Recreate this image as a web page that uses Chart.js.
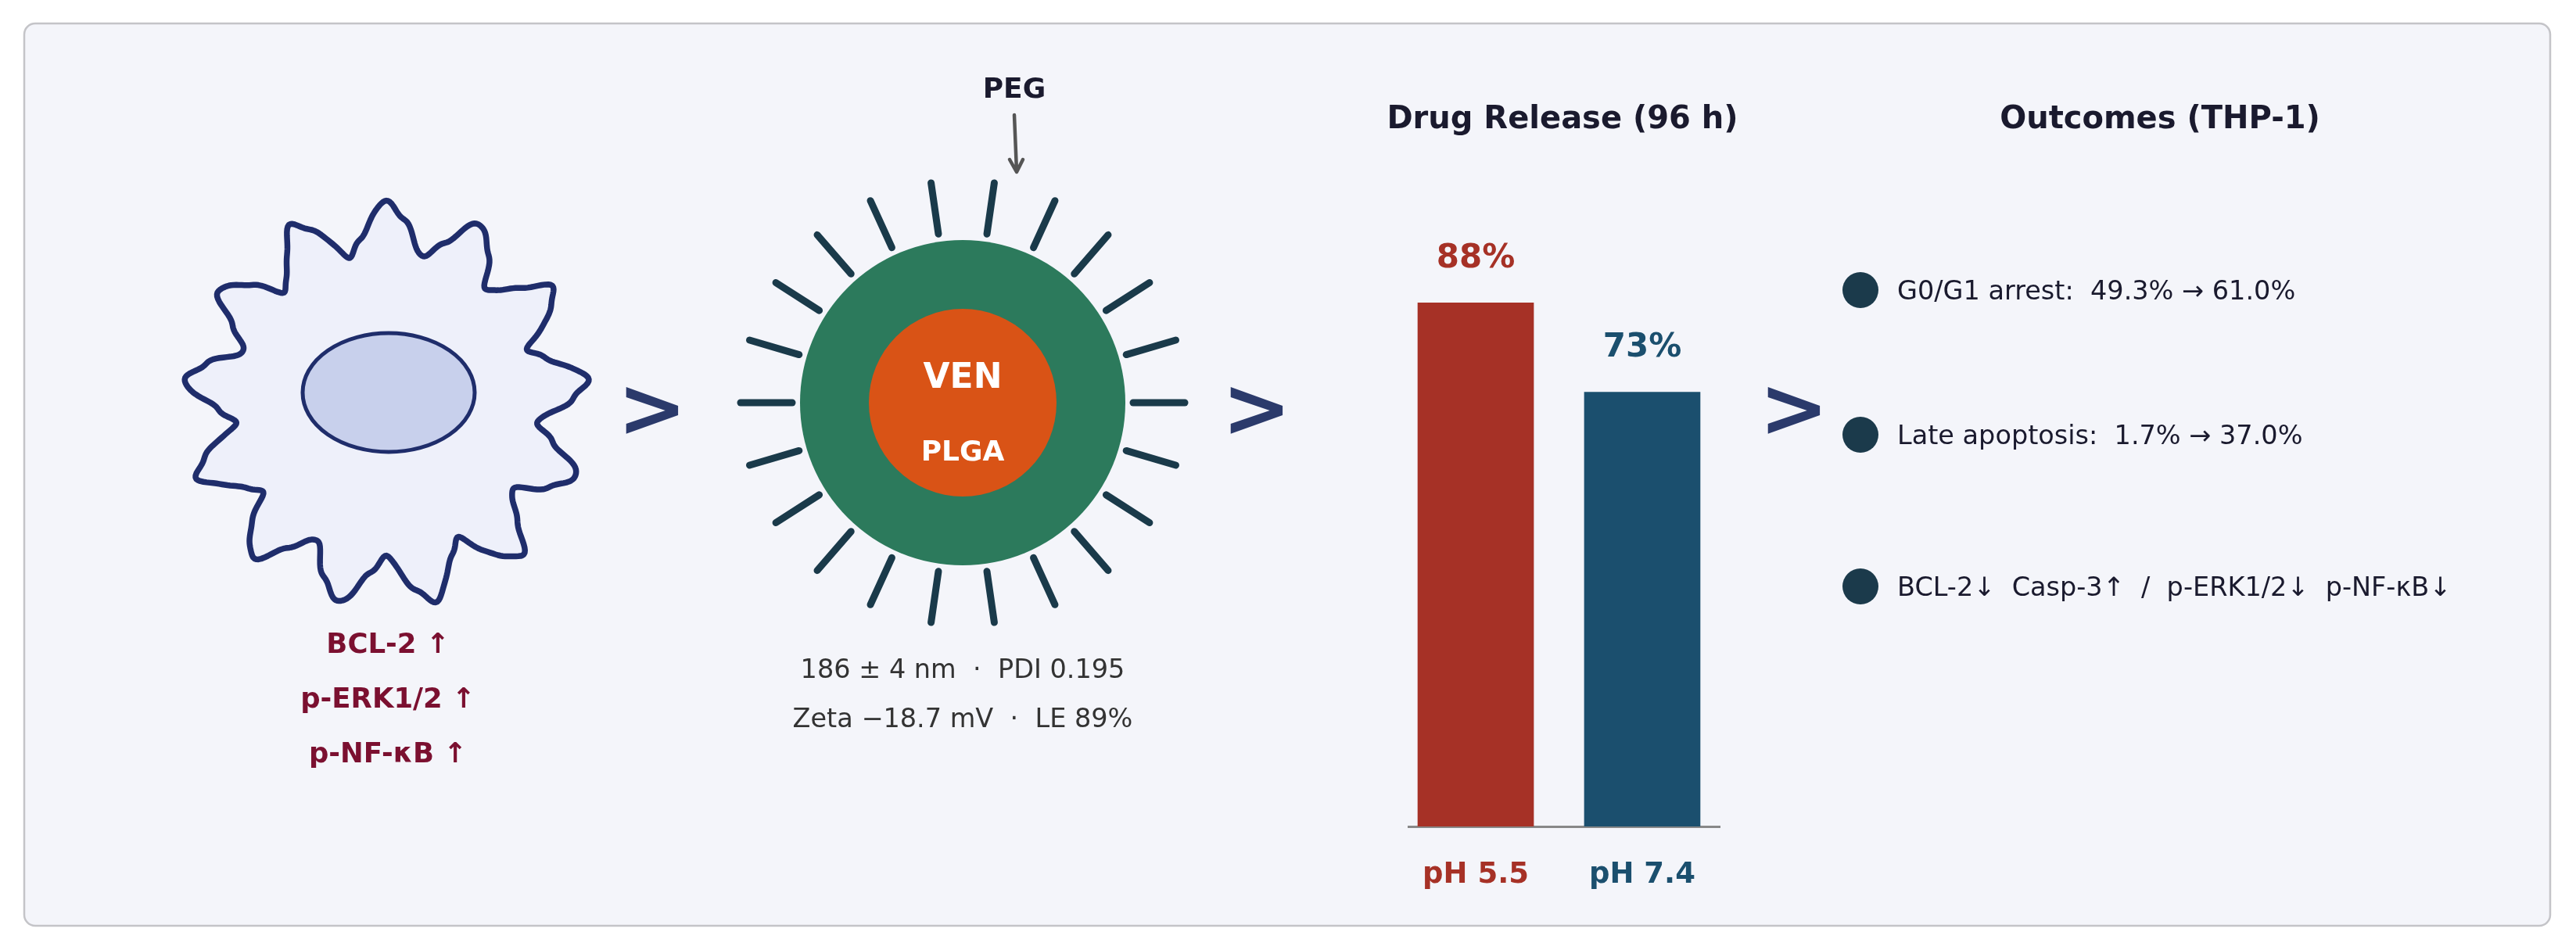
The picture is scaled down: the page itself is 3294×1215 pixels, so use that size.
<!DOCTYPE html>
<html>
<head>
<meta charset="utf-8">
<script src="https://cdn.jsdelivr.net/npm/chart.js@4.4.1/dist/chart.umd.min.js"></script>
<style>
  html, body { margin: 0; padding: 0; background: #ffffff; }
  #wrap { width: 3294px; height: 1215px; }
</style>
</head>
<body>
<div id="wrap"><canvas id="myChart" width="3294" height="1215"></canvas></div>
<script>
// data
var phLabels = ['pH 5.5', 'pH 7.4'];
var releasePct = [88, 73];
var barColors = ['#a63126', '#1b4f6e'];

var markers = ['BCL-2 \u2191', 'p-ERK1/2 \u2191', 'p-NF-\u03baB \u2191'];
var npInfo = ['186 \u00b1 4 nm  \u00b7  PDI 0.195', 'Zeta \u221218.7 mV  \u00b7  LE 89%'];
var outcomes = [
    'G0/G1 arrest:  49.3% \u2192 61.0%',
    'Late apoptosis:  1.7% \u2192 37.0%',
    'BCL-2\u2193  Casp-3\u2191  /  p-ERK1/2\u2193  p-NF-\u03baB\u2193'
];

var FONT = '"DejaVu Sans", "Noto Sans", sans-serif';

function roundRect(ctx, x, y, w, h, r) {
    ctx.beginPath();
    ctx.moveTo(x + r, y);
    ctx.lineTo(x + w - r, y);
    ctx.arcTo(x + w, y, x + w, y + r, r);
    ctx.lineTo(x + w, y + h - r);
    ctx.arcTo(x + w, y + h, x + w - r, y + h, r);
    ctx.lineTo(x + r, y + h);
    ctx.arcTo(x, y + h, x, y + h - r, r);
    ctx.lineTo(x, y + r);
    ctx.arcTo(x, y, x + r, y, r);
    ctx.closePath();
}

function text(ctx, s, x, y, size, color, bold, align) {
    ctx.font = (bold ? 'bold ' : '') + size + 'px ' + FONT;
    ctx.fillStyle = color;
    ctx.textAlign = align || 'center';
    ctx.textBaseline = 'alphabetic';
    ctx.fillText(s, x, y);
}

//illustration behind the chart
var scenePlugin = {
    id: 'scene',
    beforeDraw: function (chart) {
        var ctx = chart.ctx;
        ctx.save();

        //panel
        roundRect(ctx, 31, 30, 3230, 1154, 14);
        ctx.fillStyle = '#f4f5fa';
        ctx.fill();
        ctx.lineWidth = 2.5;
        ctx.strokeStyle = '#c4c4c8';
        ctx.stroke();

        //cell
        var cx = 494, cy = 517;
        var t0 = -172.8 * Math.PI / 180;
        ctx.beginPath();
        for (var i = 0; i <= 720; i++) {
            var t = i / 720 * Math.PI * 2;
            var r = 227 + 30 * Math.cos(13 * (t - t0))
                + 3.5 * Math.sin(39 * t + 0.7) + 1.5 * Math.sin(61 * t + 2.1);
            var px = cx + r * Math.cos(t), py = cy + r * Math.sin(t);
            if (i == 0) ctx.moveTo(px, py); else ctx.lineTo(px, py);
        }
        ctx.closePath();
        ctx.fillStyle = '#eef0fa';
        ctx.fill();
        ctx.lineWidth = 7.5;
        ctx.lineJoin = 'round';
        ctx.strokeStyle = '#1f2d6b';
        ctx.stroke();

        //nucleus
        ctx.beginPath();
        ctx.ellipse(497, 502, 110, 76, 0, 0, Math.PI * 2);
        ctx.fillStyle = '#c8d0ec';
        ctx.fill();
        ctx.lineWidth = 5;
        ctx.stroke();

        markers.forEach(function (m, k) {
            text(ctx, m, 496, 835 + k * 70, 35.5, '#7b1030', true);
        });

        //nanoparticle
        var nx = 1231, ny = 515;
        ctx.strokeStyle = '#1a3a4a';
        ctx.lineWidth = 9;
        ctx.lineCap = 'round';
        for (var k = 0; k < 22; k++) {
            var a = k * Math.PI * 2 / 22;
            ctx.beginPath();
            ctx.moveTo(nx + 218 * Math.cos(a), ny + 218 * Math.sin(a));
            ctx.lineTo(nx + 284 * Math.cos(a), ny + 284 * Math.sin(a));
            ctx.stroke();
        }
        ctx.beginPath();
        ctx.arc(nx, ny, 208, 0, Math.PI * 2);
        ctx.fillStyle = '#2c7a5c';
        ctx.fill();
        ctx.beginPath();
        ctx.arc(nx, ny, 120, 0, Math.PI * 2);
        ctx.fillStyle = '#d95316';
        ctx.fill();
        text(ctx, 'VEN', nx, 496, 44, '#ffffff', true);
        text(ctx, 'PLGA', nx, 589, 36, '#ffffff', true);

        //PEG arrow
        text(ctx, 'PEG', 1297, 125, 36, '#1a1a2e', true);
        ctx.strokeStyle = '#555555';
        ctx.lineWidth = 4.5;
        ctx.beginPath();
        ctx.moveTo(1297, 147);
        ctx.lineTo(1300, 219);
        ctx.moveTo(1291, 204);
        ctx.lineTo(1300, 220);
        ctx.lineTo(1308, 204);
        ctx.stroke();

        npInfo.forEach(function (s, k) {
            text(ctx, s, nx, 867 + k * 63, 33.5, '#333333', false);
        });

        //chevrons
        [834, 1607, 2294].forEach(function (x) {
            text(ctx, '>', x, 558, 106, '#2b3a6b', true);
        });

        //titles
        text(ctx, 'Drug Release (96 h)', 1998, 164, 40, '#1a1a2e', true);
        text(ctx, 'Outcomes (THP-1)', 2762, 164, 40, '#1a1a2e', true);

        //outcomes list
        var rows = [371, 556, 750];
        outcomes.forEach(function (s, k) {
            ctx.beginPath();
            ctx.arc(2379, rows[k], 23, 0, Math.PI * 2);
            ctx.fillStyle = '#1b3a4b';
            ctx.fill();
            text(ctx, s, 2426, rows[k] + 12, 33.5, '#1a1a2e', false, 'left');
        });

        ctx.restore();
    },
    afterDatasetsDraw: function (chart) {
        var ctx = chart.ctx;
        var meta = chart.getDatasetMeta(0);
        ctx.save();
        meta.data.forEach(function (bar, i) {
            text(ctx, releasePct[i] + '%', bar.x, bar.y - 45, 42, barColors[i], true);
        });
        ctx.restore();
    }
};

var points = releasePct.map(function (v, i) { return {x: i, y: v}; });

var config = {
    type: 'bar',
    data: {
        datasets: [{
            label: 'Drug release',
            data: points,
            backgroundColor: barColors,
            borderWidth: 0,
            barThickness: 148
        }]
    },
    options: {
        responsive: false,
        animation: false,
        devicePixelRatio: 1,
        layout: {
            padding: {left: 1801, right: 1095, top: 296, bottom: 48}
        },
        plugins: {
            legend: {display: false},
            tooltip: {enabled: false},
            title: {display: false}
        },
        scales: {
            x: {
                type: 'linear',
                offset: false,
                min: -0.404,
                max: 1.465,
                grid: {display: false, drawTicks: false, offset: false},
                border: {display: true, color: '#888888', width: 3},
                afterBuildTicks: function (s) {
                    s.ticks = [{value: 0}, {value: 1}];
                },
                afterFit: function (s) {
                    s.height = 110;
                },
                ticks: {
                    autoSkip: false,
                    maxRotation: 0,
                    padding: 40,
                    font: {family: FONT, size: 37, weight: 'bold'},
                    color: function (c) { return barColors[c.index]; },
                    callback: function (v) { return phLabels[v]; }
                }
            },
            y: {
                display: false,
                min: 0,
                max: 100
            }
        }
    },
    plugins: [scenePlugin]
};

var myChart = new Chart(document.getElementById('myChart'), config);
</script>
</body>
</html>
